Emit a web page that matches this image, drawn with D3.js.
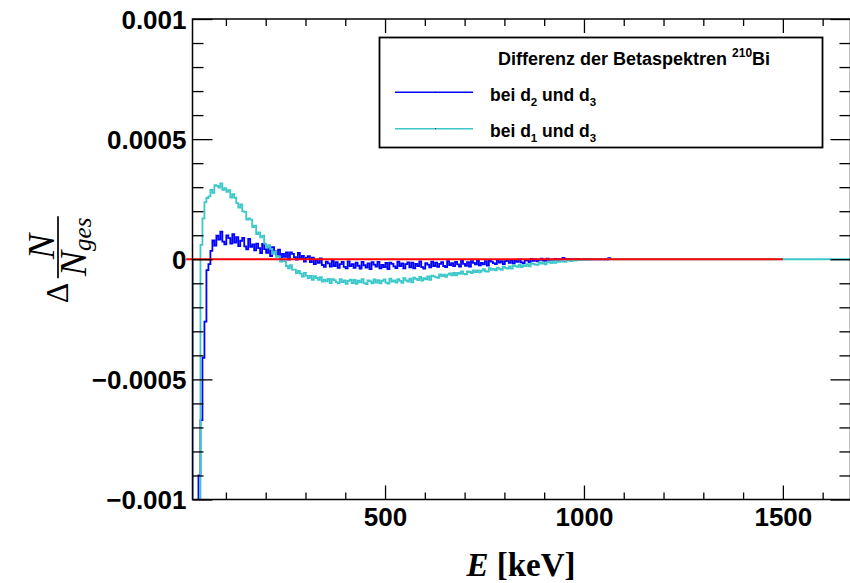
<!DOCTYPE html>
<html><head><meta charset="utf-8">
<script src="https://cdn.jsdelivr.net/npm/d3@7"></script>
<style>body{margin:0;background:#fff}svg{display:block}</style>
</head><body><svg id="c" width="850" height="583"></svg>
<script>
// ---------------- data ----------------
const binStart = 16;      // keV, lower edge of first bin
const binWidth = 5;       // keV
const histEnd = 1700;     // keV, cyan histogram continues at zero up to here
const valueUnit = 1e-6;   // arrays below are in units of 1e-6

// Delta N / N_ges  between d2 and d3 (blue)
const diffD2D3 = [
-1100,-1100,-1100,-900,-670,-410,-260,-45,-20,35,
78,57,98,82,115,73,62,99,88,65,
104,69,92,55,77,89,54,41,85,52,
62,37,65,46,26,64,42,27,49,13,
50,33,19,40,8,22,10,29,-1,29,
22,9,-1,26,5,14,-10,7,13,-12,
7,-20,-2,-15,4,-24,-32,-10,-17,-31,
-7,-28,-12,-36,-20,-11,-32,-38,-9,-28,
-20,-36,-14,-27,-39,-11,-25,-35,-17,-41,
-12,-22,-31,-11,-38,-23,-33,-15,-41,-14,
-19,-30,-37,-10,-28,-17,-38,-20,-13,-34,
-14,-38,-19,-29,-9,-33,-39,-16,-22,-34,
-10,-28,-14,-32,-19,-12,-28,-33,-8,-24,
-16,-29,-11,-21,-31,-7,-19,-27,-12,-31,
-8,-15,-21,-6,-25,-15,-21,-8,-26,-6,
-10,-16,-20,-3,-14,-8,-20,-8,-4,-15,
-4,-17,-6,-11,-1,-13,-16,-3,-6,-12,
1,-7,-1,-9,-3,2,-6,-7,3,-2,
-2,-3,1,-2,0,-1,6,0,0,0,
0,0,0,0,0,0,0,0,0,0,
0,0,0,0,0,0,0,0,0,5
];

// Delta N / N_ges  between d1 and d3 (cyan)
const diffD1D3 = [
-1100,-1100,-1100,-1100,60,170,238,255,262,289,
276,308,305,298,316,289,296,281,288,257,
271,256,234,215,228,199,197,165,170,165,
134,140,105,112,91,98,65,48,59,43,
22,32,10,12,-10,-7,-8,-28,-38,-25,
-43,-43,-58,-48,-60,-72,-57,-69,-78,-69,
-86,-70,-78,-86,-75,-93,-85,-92,-82,-99,
-83,-87,-95,-100,-83,-95,-88,-102,-90,-85,
-99,-86,-102,-89,-96,-83,-99,-103,-88,-92,
-100,-84,-97,-87,-100,-90,-84,-97,-101,-81,
-93,-88,-97,-83,-90,-98,-79,-88,-93,-81,
-96,-77,-82,-87,-73,-89,-79,-84,-71,-86,
-68,-71,-74,-77,-63,-70,-64,-73,-64,-59,
-67,-57,-67,-57,-61,-51,-61,-63,-51,-53,
-58,-46,-54,-46,-55,-47,-41,-50,-51,-37,
-44,-40,-46,-35,-40,-44,-31,-36,-39,-30,
-39,-25,-29,-32,-22,-33,-25,-29,-20,-30,
-17,-19,-22,-23,-13,-18,-14,-21,-13,-10,
-16,-8,-15,-8,-11,-5,-10,-11,-5,-6,
-8,-1,-6,-2,-4,-2,-1,-2,0,-1
];

const referenceLine = [0, 1500];   // keV, red zero line
const xDomain = [16, 1670];
const yDomain = [-0.001, 0.001];
const xMajorTicks = [500, 1000, 1500];
const xMinorTicks = [100,200,300,400,600,700,800,900,1100,1200,1300,1400,1600];
const yMajorTicks = [-0.001, -0.0005, 0, 0.0005, 0.001];
const yTickLabels = ["\u22120.001", "\u22120.0005", "0", "0.0005", "0.001"];
const yMinorTicks = [-0.0009,-0.0008,-0.0007,-0.0006,-0.0004,-0.0003,-0.0002,-0.0001,
                     0.0001,0.0002,0.0003,0.0004,0.0006,0.0007,0.0008,0.0009];
const legendTitle = "Differenz der Betaspektren";
const legendIsotope = ["210", "Bi"];
const seriesLabels = [["bei d","2"," und d","3"], ["bei d","1"," und d","3"]];
const seriesColors = ["#0000ff", "#3cc8c8"];

// ---------------- layout ----------------
const L = 192.5, R = 850.5, T = 19, B = 499.5;
const svg = d3.select("#c");
const x = d3.scaleLinear().domain(xDomain).range([L, R]);
const y = d3.scaleLinear().domain(yDomain).range([B, T]);
const sans = "'Liberation Sans', Arial, Helvetica, sans-serif";
const serif = "'Liberation Serif', 'Times New Roman', Times, serif";

svg.append("defs").append("clipPath").attr("id","plot")
  .append("rect").attr("x",L).attr("y",T).attr("width",R-L).attr("height",B-T);

function histPoints(vals, extend){
  const pts = [[x(binStart), y(0)]];
  vals.forEach((v,i)=>{
    const e0 = binStart + i*binWidth, e1 = e0 + binWidth;
    pts.push([x(e0), y(v*valueUnit)], [x(e1), y(v*valueUnit)]);
  });
  const eLast = binStart + vals.length*binWidth;
  pts.push([x(eLast), y(0)]);
  if (extend) pts.push([x(histEnd), y(0)]);
  return pts;
}
const line = d3.line();
const plot = svg.append("g").attr("clip-path","url(#plot)");
[diffD2D3, diffD1D3].forEach((vals,k)=>{
  plot.append("path").attr("d", line(histPoints(vals, k===1)))
    .attr("fill","none").attr("stroke",seriesColors[k]).attr("stroke-width",1.8)
    .attr("stroke-linejoin","miter");
});

// red zero line
svg.append("line").attr("x1",x(referenceLine[0])).attr("x2",x(referenceLine[1]))
  .attr("y1",y(0)).attr("y2",y(0)).attr("stroke","#ff0000").attr("stroke-width",2);

// ---------------- axes ----------------
function styleAxis(g){
  g.select(".domain").remove();
  g.selectAll(".tick line").attr("stroke","#000").attr("stroke-width",1.3);
  g.selectAll(".tick text").attr("font-family",sans).attr("font-weight","bold")
    .attr("font-size",26).attr("fill","#000");
}
svg.append("g").attr("transform",`translate(0,${B})`)
  .call(d3.axisBottom(x).tickValues(xMajorTicks).tickSize(-14).tickPadding(8).tickFormat(d3.format("d"))).call(styleAxis);
svg.append("g").attr("transform",`translate(0,${B})`)
  .call(d3.axisBottom(x).tickValues(xMinorTicks).tickSize(-7).tickFormat("")).call(styleAxis);
svg.append("g").attr("transform",`translate(0,${T})`)
  .call(d3.axisTop(x).tickValues(xMajorTicks).tickSize(-14).tickFormat("")).call(styleAxis);
svg.append("g").attr("transform",`translate(0,${T})`)
  .call(d3.axisTop(x).tickValues(xMinorTicks).tickSize(-7).tickFormat("")).call(styleAxis);

const gl = svg.append("g").attr("transform",`translate(${L},0)`)
  .call(d3.axisLeft(y).tickValues(yMajorTicks).tickSize(-20).tickPadding(6)
        .tickFormat((d,i)=>yTickLabels[i])).call(styleAxis);
gl.selectAll(".tick text").attr("dy","0.36em");
svg.append("g").attr("transform",`translate(${L},0)`)
  .call(d3.axisLeft(y).tickValues(yMinorTicks).tickSize(-11).tickFormat("")).call(styleAxis);
svg.append("g").attr("transform",`translate(${R},0)`)
  .call(d3.axisRight(y).tickValues(yMajorTicks).tickSize(-20).tickFormat("")).call(styleAxis);
svg.append("g").attr("transform",`translate(${R},0)`)
  .call(d3.axisRight(y).tickValues(yMinorTicks).tickSize(-11).tickFormat("")).call(styleAxis);

// frame
svg.append("rect").attr("x",L).attr("y",T).attr("width",R-L).attr("height",B-T)
  .attr("fill","none").attr("stroke","#000").attr("stroke-width",1.5);

// x title
const xt = svg.append("text").attr("x",521).attr("y",576).attr("text-anchor","middle")
  .attr("font-family",serif).attr("font-weight","bold").attr("font-size",33).attr("fill","#000");
xt.append("tspan").attr("font-style","italic").text("E");
xt.append("tspan").text(" [keV]");

// y title: Delta N / N_ges (rotated)
const yl = svg.append("g").attr("transform",`translate(58,${(T+B)/2}) rotate(-90)`)
  .attr("font-family",serif).attr("fill","#000");
yl.append("text").attr("x",-44).attr("y",10).attr("font-size",32).text("\u0394");
yl.append("line").attr("x1",-19).attr("x2",43).attr("y1",0).attr("y2",0)
  .attr("stroke","#000").attr("stroke-width",1.7);
yl.append("text").attr("x",0).attr("y",-4).attr("font-size",38).attr("font-style","italic").text("N");
const den = yl.append("text").attr("x",-17).attr("y",28).attr("font-size",38).attr("font-style","italic");
den.append("tspan").text("N");
den.append("tspan").attr("font-size",25).attr("dy",5).text("ges");

// ---------------- legend ----------------
const lg = svg.append("g");
lg.append("rect").attr("x",379.5).attr("y",37.5).attr("width",443).attr("height",110)
  .attr("fill","#fff").attr("stroke","#000").attr("stroke-width",1.8);
const tt = lg.append("text").attr("x",498).attr("y",65).attr("font-family",sans)
  .attr("font-weight","bold").attr("font-size",18).attr("fill","#000");
tt.append("tspan").text(legendTitle + "  ");
tt.append("tspan").attr("font-size",12).attr("dy",-8).text(legendIsotope[0]);
tt.append("tspan").attr("dy",8).text(legendIsotope[1]);
seriesLabels.forEach((parts,k)=>{
  const yy = [92.3,128.7][k];
  lg.append("line").attr("x1",395).attr("x2",473).attr("y1",yy).attr("y2",yy)
    .attr("stroke",seriesColors[k]).attr("stroke-width",1.6);
  lg.append("rect").attr("x",435).attr("y",yy-0.5).attr("width",1).attr("height",1).attr("fill","#000");
  const t = lg.append("text").attr("x",490).attr("y",yy+8.7).attr("font-family",sans)
    .attr("font-weight","bold").attr("font-size",17.5).attr("fill","#000");
  t.append("tspan").text(parts[0]);
  t.append("tspan").attr("font-size",11.5).attr("dy",5).text(parts[1]);
  t.append("tspan").attr("dy",-5).text(parts[2]);
  t.append("tspan").attr("font-size",11.5).attr("dy",5).text(parts[3]);
});
</script></body></html>
